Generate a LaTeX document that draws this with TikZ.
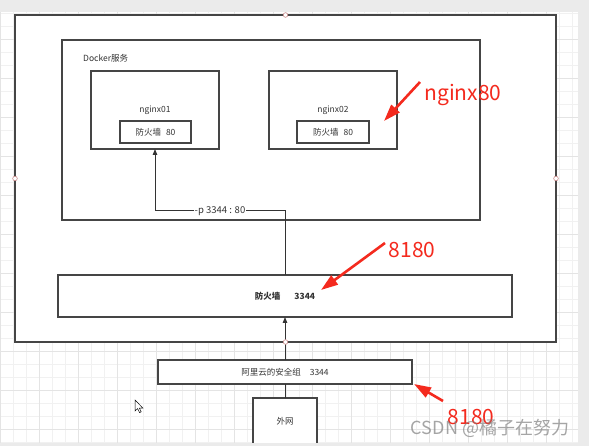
\documentclass[tikz,border=0pt]{standalone}
\usepackage{fontspec}
\setmainfont{Noto Sans CJK SC}
\usetikzlibrary{positioning, arrows.meta, calc}

\definecolor{linegray}{HTML}{454545}
\definecolor{textgray}{HTML}{333333}
\definecolor{markred}{HTML}{F42A1E}
\definecolor{gridminor}{HTML}{F1F1F1}
\definecolor{gridmajor}{HTML}{E4E4E4}
\definecolor{pagegray}{HTML}{EBEBEB}
\definecolor{handlepink}{HTML}{C98A8A}

\begin{document}
\begin{tikzpicture}[
    x=1pt, y=-1pt,
    box/.style={draw=linegray, line width=1.2pt, fill=white, anchor=north west, inner sep=0pt, outer sep=0pt, text=textgray, font=\fontsize{8.5}{10}\selectfont},
    caption/.style={inner sep=0pt, text=textgray, font=\fontsize{8.5}{10}\selectfont},
    flow/.style={draw=textgray, line width=1pt, -{Triangle[length=6pt, width=4.5pt]}},
    wire/.style={draw=textgray, line width=1pt},
    handle/.style={draw=handlepink, fill=white, line width=0.6pt},
    tag/.style={text=markred, inner sep=0pt, font=\fontsize{21}{21}\selectfont},
    redarrow/.style={draw=markred, line width=2.6pt, -{Triangle[length=17pt, width=11pt]}}
]
    \useasboundingbox (0,0) rectangle (589,446);
    \clip (0,0) rectangle (589,446);

    % Canvas
    \fill[pagegray] (0,0) rectangle (589,446);
    \fill[white] (0,12) rectangle (578,443);
    \draw[gridminor, line width=0.5pt, step=13pt] (0,12) grid (578,443);
    \draw[gridmajor, line width=0.6pt, step=39pt] (0,12) grid (578,443);

    % Host
    \node[box, line width=1.5pt, minimum width=541pt, minimum height=327pt] (host) at (15,15) {};

    % Docker
    \node[box, minimum width=418pt, minimum height=180pt] (docker) at (62,40) {};
    \node[caption, anchor=west] (dockerlbl) at (83,58) {Docker服务};

    \node[box, minimum width=128pt, minimum height=78pt] (n1) at (91,71) {nginx01};
    \node[box, minimum width=71pt, minimum height=22pt] (n1fw) at (120,121) {防火墙\hspace{5pt}80};
    \node[box, minimum width=128pt, minimum height=78pt] (n2) at (269,71) {nginx02};
    \node[box, minimum width=72pt, minimum height=22pt] (n2fw) at (297,121) {防火墙\hspace{5pt}80};

    % Firewall and security group
    \node[box, minimum width=454pt, minimum height=42pt, font=\fontsize{8.5}{10}\selectfont\bfseries] (fw) at (58,275) {防火墙\hspace{14pt}3344};
    \node[box, minimum width=254pt, minimum height=24pt] (sg) at (158,360) {阿里云的安全组\hspace{9pt}3344};
    \node[box, minimum width=64pt, minimum height=46pt] (ext) at (253,398) {外网};

    % Connectors
    \coordinate (bend) at (n1.south |- 0,211);
    \draw[flow] (fw.north) |- node[pos=0.75, caption, fill=white, inner sep=1pt, font=\fontsize{9.5}{10}\selectfont] {-p 3344 : 80} (bend) -- (n1.south);
    \draw[flow] (sg.north) -- (fw.south);
    \draw[wire] (ext.north) -- (sg.south);

    \foreach \side in {north,west,east,south}
        \draw[handle] (host.\side) circle (2.3pt);

    % Cursor
    \draw[fill=white, line width=0.5pt] (135,400) -- (135,411) -- (137.6,408.6) -- (139.6,412.6) -- (141.2,411.8) -- (139.3,408) -- (142.8,408) -- cycle;

    % Annotations
    \node[tag] (tagng) at (463,95) {nginx80};
    \coordinate (ngtail) at (420,82);
    \coordinate (ngtip) at (384,121);
    \draw[redarrow] (ngtail) -- (ngtip);

    \node[tag] (tagfw) at (412,250) {8180};
    \coordinate (fwtail) at (385,243);
    \coordinate (fwtip) at (321,290);
    \draw[redarrow] (fwtail) -- (fwtip);

    \node[tag] (tagsg) at (471,417) {8180};
    \coordinate (sgtail) at (443,401);
    \coordinate (sgtip) at (414,384);
    \draw[redarrow] (sgtail) -- (sgtip);

    \node[text=gray, opacity=0.7, inner sep=0pt, font=\fontsize{18}{18}\selectfont] (mark) at (490,428) {CSDN @橘子在努力};

    \fill[pagegray] (0,443) rectangle (589,446);
\end{tikzpicture}
\end{document}
